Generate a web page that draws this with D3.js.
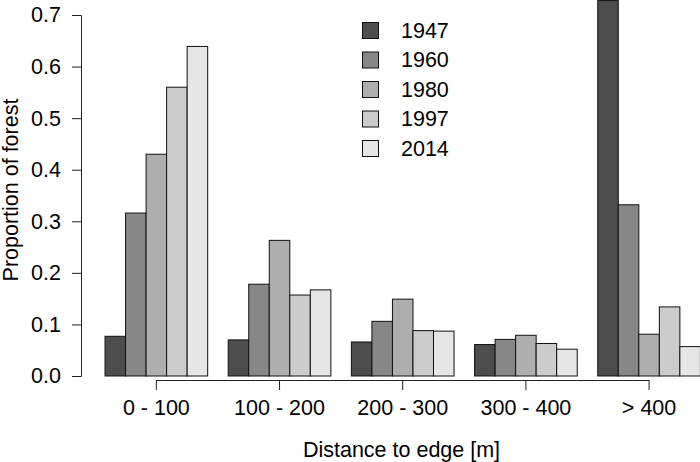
<!DOCTYPE html>
<html lang="en">
<head>
  <meta charset="UTF-8">
  <title>Proportion of forest by distance to edge</title>
  <script src="https://d3js.org/d3.v7.min.js"></script>
  <style>
    body {
      margin: 0;
      padding: 0;
      background: #fff;
    }
    svg text {
      font-family: "Liberation Sans", Arial, sans-serif;
      fill: #000;
    }
  </style>
</head>
<body>
  <div id="chart"></div>

  <script>
    const categories = ["0 - 100", "100 - 200", "200 - 300", "300 - 400", "> 400"];
    const years = ["1947", "1960", "1980", "1997", "2014"];
    const yTicks = [0, 0.1, 0.2, 0.3, 0.4, 0.5, 0.6, 0.7];

    // one array per year, same order as categories
    const v1947 = [0.077, 0.070, 0.066, 0.061, 0.728];
    const v1960 = [0.316, 0.178, 0.106, 0.071, 0.332];
    const v1980 = [0.430, 0.263, 0.149, 0.079, 0.081];
    const v1997 = [0.560, 0.157, 0.088, 0.063, 0.134];
    const v2014 = [0.639, 0.167, 0.087, 0.052, 0.057];
    const seriesValues = [v1947, v1960, v1980, v1997, v2014];

    const colors = ["#4d4d4d", "#878787", "#aeaeae", "#cccccc", "#e6e6e6"];

    const W = 700, H = 462;
    const fontSize = "21.5px";

    const svg = d3.select("#chart")
      .append("svg")
      .attr("width", W)
      .attr("height", H);

    const y = d3.scaleLinear()
      .domain([0, 0.7])
      .range([376, 15]);

    // R style barplot: one empty bar-width before each group
    const x = d3.scaleBand()
      .domain(categories)
      .range([84.5, 700.4])
      .paddingInner(1 / 6)
      .paddingOuter(1 / 12)
      .align(1);

    const xs = d3.scaleBand()
      .domain(years)
      .range([0, x.bandwidth()]);

    const color = d3.scaleOrdinal().domain(years).range(colors);

    const rows = [];
    categories.forEach((c, i) => {
      years.forEach((yr, j) => {
        rows.push({ category: c, year: yr, value: seriesValues[j][i] });
      });
    });

    svg.append("g")
      .selectAll("rect")
      .data(rows)
      .enter()
      .append("rect")
      .attr("x", d => x(d.category) + xs(d.year))
      .attr("width", xs.bandwidth())
      .attr("y", d => y(d.value))
      .attr("height", d => y(0) - y(d.value))
      .attr("fill", d => color(d.year))
      .attr("stroke", "#111")
      .attr("stroke-width", 1);

    // y axis
    const yAxis = svg.append("g")
      .attr("transform", "translate(81,0)")
      .call(d3.axisLeft(y).tickValues(yTicks).tickFormat(d3.format(".1f")).tickSize(9).tickPadding(11));
    yAxis.select(".domain").attr("stroke", "#222");
    yAxis.selectAll(".tick line").attr("stroke", "#222");
    yAxis.selectAll("text").style("font-size", fontSize);

    // x axis: line only between first and last tick, like R
    const xAxis = svg.append("g")
      .attr("transform", "translate(0,380)")
      .call(d3.axisBottom(x).tickSize(10).tickSizeOuter(0).tickPadding(10));
    const first = x(categories[0]) + x.bandwidth() / 2;
    const last = x(categories[categories.length - 1]) + x.bandwidth() / 2;
    xAxis.select(".domain")
      .attr("d", `M${first},0.5H${last}`)
      .attr("stroke", "#222");
    xAxis.selectAll(".tick line").attr("stroke", "#222");
    xAxis.selectAll("text").style("font-size", fontSize);

    // axis titles
    svg.append("text")
      .attr("x", 401.5)
      .attr("y", 456.5)
      .attr("text-anchor", "middle")
      .style("font-size", fontSize)
      .text("Distance to edge [m]");

    svg.append("text")
      .attr("transform", "translate(18,190) rotate(-90)")
      .attr("text-anchor", "middle")
      .style("font-size", fontSize)
      .text("Proportion of forest");

    // legend
    const legend = svg.append("g")
      .attr("transform", "translate(362,30)");

    const item = legend.selectAll("g")
      .data(years)
      .enter()
      .append("g")
      .attr("transform", (d, i) => `translate(0,${i * 29.5})`);

    item.append("rect")
      .attr("x", 0.5)
      .attr("y", -7.5)
      .attr("width", 16)
      .attr("height", 16)
      .attr("fill", d => color(d))
      .attr("stroke", "#111");

    item.append("text")
      .attr("x", 39)
      .attr("y", 0)
      .attr("dy", "0.36em")
      .style("font-size", fontSize)
      .text(d => d);
  </script>
</body>
</html>
